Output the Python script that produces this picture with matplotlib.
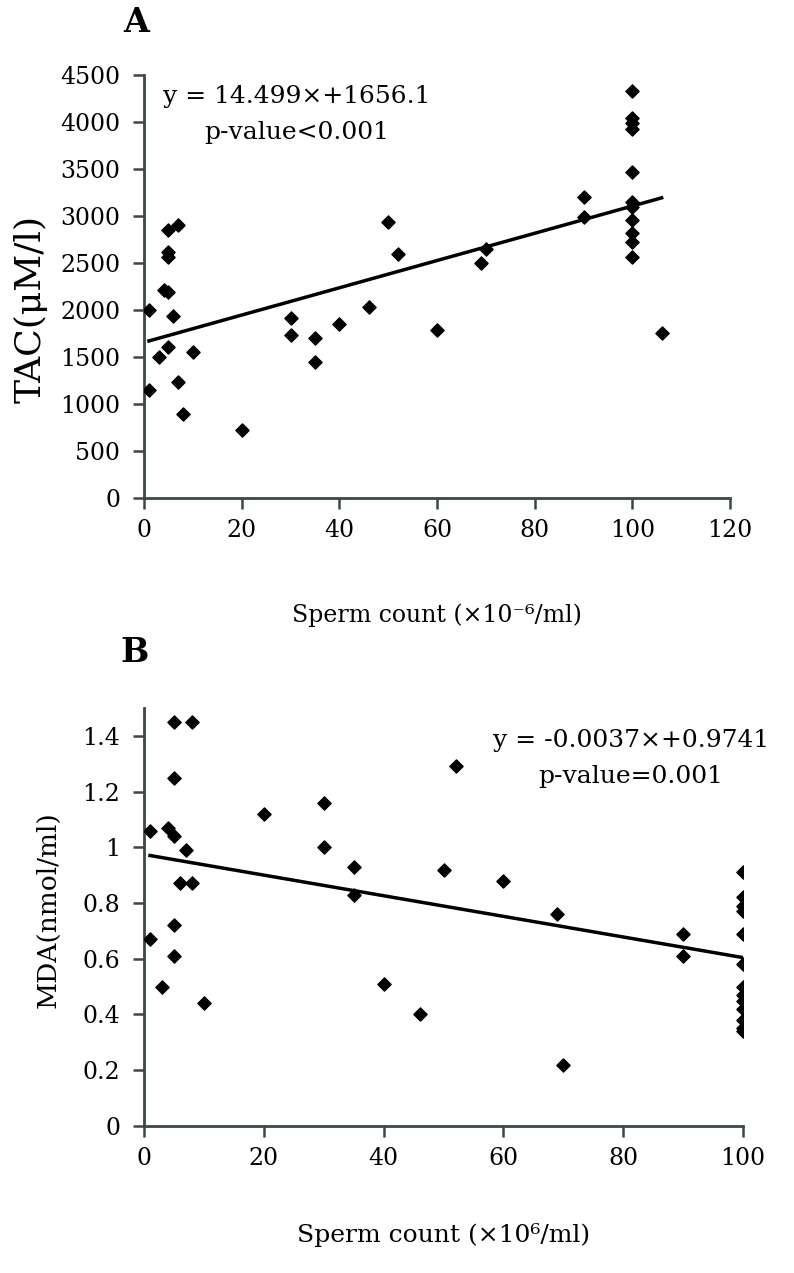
import numpy as np
import matplotlib
matplotlib.use('Agg')
import matplotlib.pyplot as plt

plt.rcParams['font.family'] = ['DejaVu Serif']

# Panel A - TAC vs sperm count
tac_x = [1, 1, 3, 4, 5, 5, 7, 5, 5, 6, 5, 7, 8, 10, 20,
         30, 30, 35, 35, 40, 46, 50, 52, 60, 69, 70, 90, 90,
         100, 100, 100, 100, 100, 100, 100, 100, 100, 100, 100, 106]
tac_y = [2000, 1150, 1500, 2210, 2190, 2850, 2900, 2620, 2560, 1940, 1610, 1235, 895, 1555, 720,
         1915, 1735, 1700, 1445, 1850, 2030, 2935, 2600, 1790, 2500, 2650, 3200, 2990,
         4330, 4040, 3990, 3930, 3470, 3150, 3100, 2960, 2820, 2720, 2560, 1755]
tac_fit = [14.499, 1656.1]

# Panel B - MDA vs sperm count
mda_x = [1, 1, 3, 5, 8, 5, 4, 5, 7, 6, 8, 5, 5, 10,
         20, 30, 30, 35, 35, 40, 46, 50, 52, 60, 69, 70, 90, 90,
         100, 100, 100, 100, 100, 100, 100, 100, 100, 100, 100, 100, 100]
mda_y = [1.06, 0.67, 0.50, 1.45, 1.45, 1.25, 1.07, 1.04, 0.99, 0.87, 0.87, 0.72, 0.61, 0.44,
         1.12, 1.16, 1.00, 0.93, 0.83, 0.51, 0.40, 0.92, 1.29, 0.88, 0.76, 0.22, 0.69, 0.61,
         0.91, 0.82, 0.79, 0.77, 0.69, 0.58, 0.50, 0.47, 0.45, 0.42, 0.38, 0.35, 0.34]
mda_fit = [-0.0037, 0.9741]

fig = plt.figure(figsize=(7.94, 12.73), dpi=100)
ax1 = fig.add_axes([0.1814, 0.6088, 0.738, 0.3323])
ax2 = fig.add_axes([0.1814, 0.1155, 0.7544, 0.3284])

spine_col = '#3a4848'
fs = 17

def style(ax):
    for s in ['top', 'right']:
        ax.spines[s].set_visible(False)
    for s in ['left', 'bottom']:
        ax.spines[s].set_color(spine_col)
        ax.spines[s].set_linewidth(2)
    ax.tick_params(direction='out', length=8, width=1.8, color=spine_col,
                   labelsize=fs)
    ax.tick_params(axis='y', pad=9)
    ax.tick_params(axis='x', pad=7)

# A
ax1.scatter(tac_x, tac_y, marker='D', s=45, color='black', zorder=3)
xs = np.array([min(tac_x), max(tac_x)])
ax1.plot(xs, tac_fit[0] * xs + tac_fit[1], color='black', lw=2.5)
ax1.set_xlim(0, 120)
ax1.set_ylim(0, 4500)
ax1.set_xticks(range(0, 121, 20))
ax1.set_yticks(range(0, 4501, 500))
style(ax1)
ax1.set_ylabel('TAC(μM/l)', fontsize=26, va='center')
ax1.yaxis.set_label_coords(-0.193, 0.447)
ax1.set_xlabel('Sperm count (×10⁻⁶/ml)', fontsize=17, va='center')
ax1.xaxis.set_label_coords(0.5, -0.277)
ax1.text(0.261, 0.948, 'y = 14.499×+1656.1', transform=ax1.transAxes,
         ha='center', va='center', fontsize=18)
ax1.text(0.261, 0.863, 'p-value<0.001', transform=ax1.transAxes,
         ha='center', va='center', fontsize=18)
fig.text(136 / 794, 1 - 23 / 1273, 'A', fontsize=24, fontweight='bold',
         ha='center', va='center')

# B
ax2.scatter(mda_x, mda_y, marker='D', s=45, color='black', zorder=3)
xs = np.array([min(mda_x), max(mda_x)])
ax2.plot(xs, mda_fit[0] * xs + mda_fit[1], color='black', lw=2.5)
ax2.set_xlim(0, 100)
ax2.set_ylim(0, 1.5)
ax2.set_xticks(range(0, 101, 20))
ax2.set_yticks([0, 0.2, 0.4, 0.6, 0.8, 1.0, 1.2, 1.4])
ax2.set_yticklabels(['0', '0.2', '0.4', '0.6', '0.8', '1', '1.2', '1.4'])
style(ax2)
ax2.set_ylabel('MDA(nmol/ml)', fontsize=19, va='center')
ax2.yaxis.set_label_coords(-0.160, 0.517)
ax2.set_xlabel('Sperm count (×10⁶/ml)', fontsize=18, va='center')
ax2.xaxis.set_label_coords(0.5, -0.261)
ax2.text(0.813, 0.923, 'y = -0.0037×+0.9741', transform=ax2.transAxes,
         ha='center', va='center', fontsize=18, clip_on=False)
ax2.text(0.813, 0.835, 'p-value=0.001', transform=ax2.transAxes,
         ha='center', va='center', fontsize=18)
fig.text(135 / 794, 1 - 653 / 1273, 'B', fontsize=24, fontweight='bold',
         ha='center', va='center')

fig.savefig('out.png', dpi=100)
